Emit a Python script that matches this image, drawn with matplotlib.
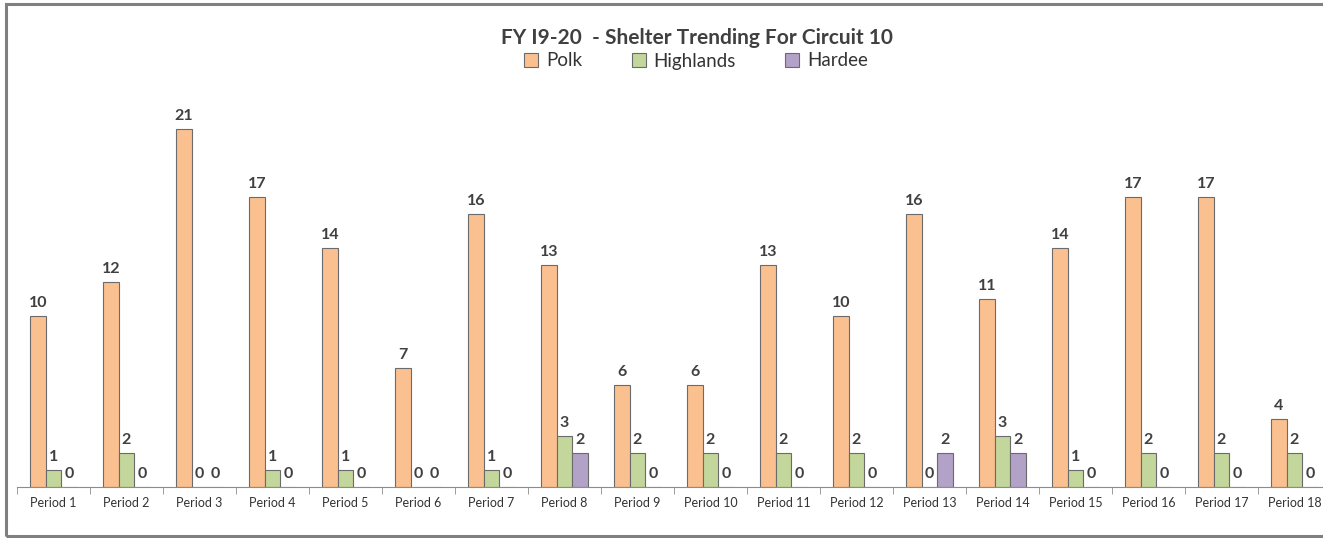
import numpy as np
import matplotlib
matplotlib.use('Agg')
import matplotlib.pyplot as plt
from matplotlib.patches import Rectangle

plt.rcParams['font.family'] = ['Lato', 'DejaVu Sans']

# 数据
periods = ['Period %d' % i for i in range(1, 19)]
polk = [10, 12, 21, 17, 14, 7, 16, 13, 6, 6, 13, 10, 16, 11, 14, 17, 17, 4]
highlands = [1, 2, 0, 1, 1, 0, 1, 3, 2, 2, 2, 2, 0, 3, 1, 2, 2, 2]
hardee = [0, 0, 0, 0, 0, 0, 0, 2, 0, 0, 0, 0, 2, 2, 0, 0, 0, 0]

series = [('Polk', polk, '#FAC090'),
          ('Highlands', highlands, '#C3D69B'),
          ('Hardee', hardee, '#B3A2C7')]

fig = plt.figure(figsize=(13.23, 5.38), dpi=100)
# 外框
fig.patches.append(Rectangle((6 / 1323, 2 / 538), 1.05, 532 / 538,
                             transform=fig.transFigure, fill=False,
                             edgecolor='#808080', linewidth=2.2))

ax = fig.add_axes([17 / 1323, 1 - 487 / 538, 1314 / 1323, (487 - 86) / 538])
x = np.arange(len(periods))
w = 0.212
label_color = '#404040'
handles = []
for i, (name, vals, col) in enumerate(series):
    pos = x + (i - 1) * w
    bars = ax.bar(pos, vals, width=w, color=col, edgecolor='#6b6b6b',
                  linewidth=0.8, label=name)
    handles.append(bars)
    for px, v in zip(pos, vals):
        ax.text(px, v + 0.35, str(v), ha='center', va='bottom',
                fontsize=11.5, fontweight='bold', color=label_color)

ax.set_xlim(-0.5, len(periods) - 0.5)
ax.set_ylim(0, 23.5)
ax.set_yticks([])
for s in ['top', 'right', 'left']:
    ax.spines[s].set_visible(False)
ax.spines['bottom'].set_color('#8c8c8c')
ax.set_xticks(x)
ax.set_xticklabels(periods, fontsize=9, color='#333333')
ax.tick_params(axis='x', which='major', length=0, pad=7)
ax.set_xticks(np.arange(-0.5, len(periods), 1), minor=True)
ax.tick_params(axis='x', which='minor', length=5, color='#8c8c8c')

fig.text(697 / 1323, 1 - 38 / 538, 'FY I9-20  - Shelter Trending For Circuit 10',
         ha='center', va='center', fontsize=15, fontweight='bold', color='#404040')
fig.legend(handles=handles, loc='center', bbox_to_anchor=(696 / 1323, 1 - 61 / 538),
           ncol=3, frameon=False, fontsize=13.5, handlelength=0.75, handleheight=0.75,
           columnspacing=2.65, handletextpad=0.4, labelcolor='#333333')

plt.savefig('out.png', dpi=100)
